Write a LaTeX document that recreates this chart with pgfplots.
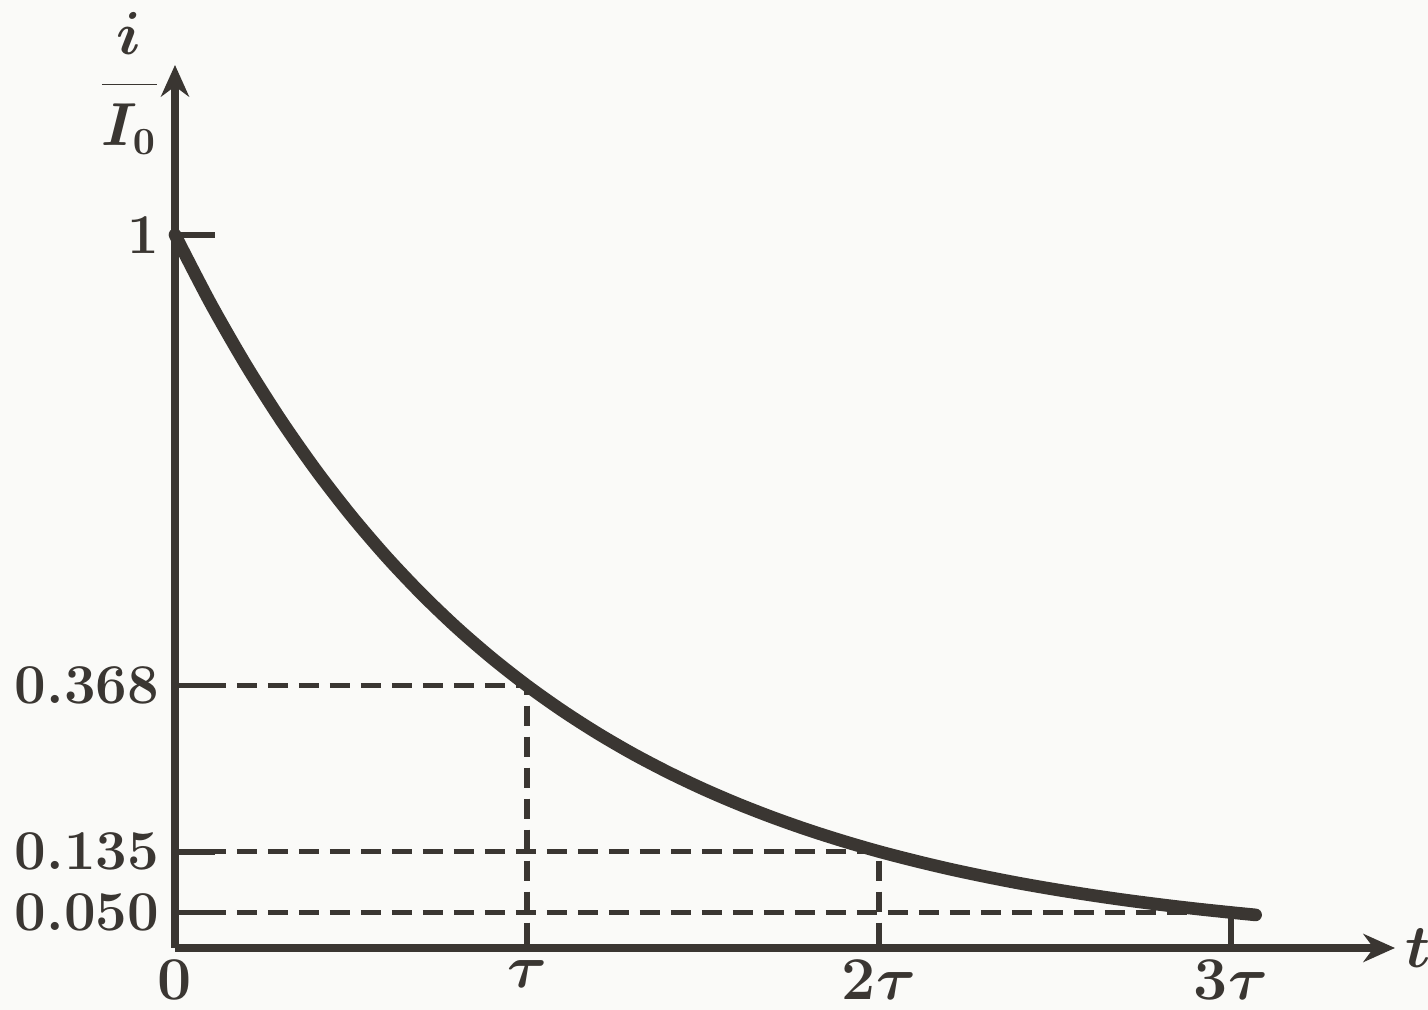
\documentclass[border=0pt]{standalone}
\usepackage{pgfplots}
\pgfplotsset{compat=1.18}
\usetikzlibrary{arrows.meta}
\definecolor{ink}{HTML}{3A3632}
\definecolor{bg}{HTML}{FAFAF8}
\begin{document}
\begin{tikzpicture}
\fill[bg] (-1.75cm,-0.62cm) rectangle ++(14.28cm,10.1cm);
\useasboundingbox (-1.75cm,-0.62cm) rectangle ++(14.28cm,10.1cm);
\begin{axis}[
  at={(0,0)}, anchor=origin,
  scale only axis, width=12.2cm, height=8.83cm,
  xmin=0, xmax=3.466, ymin=0, ymax=1.238,
  axis x line=bottom, axis y line=left,
  axis line style={ink, line width=2.2pt, -{Stealth[length=9pt,width=8pt]}},
  xtick={0,1,2,3}, xticklabels={$0$,$\tau$,$2\tau$,$3\tau$},
  ytick={0.05,0.135,0.368,1}, yticklabels={0.050,0.135,0.368,1},
  tick align=inside,
  tick style={ink, line width=1.6pt},
  xtick style={/pgfplots/major tick length=0.2cm},
  ytick style={/pgfplots/major tick length=0.4cm},
  ticklabel style={font=\fontsize{16}{18}\selectfont\bfseries\boldmath, text=ink},
  xticklabel style={yshift=0pt},
  yticklabel style={xshift=-1pt},
  clip=false,
]
\addplot[ink, line width=1.5pt, dash pattern=on 0.2cm off 0.11cm] coordinates {(0,0.368) (1,0.368) (1,0)};
\addplot[ink, line width=1.5pt, dash pattern=on 0.2cm off 0.11cm] coordinates {(0,0.135) (2,0.135) (2,0)};
\addplot[ink, line width=1.5pt, dash pattern=on 0.2cm off 0.11cm] coordinates {(0,0.05) (3,0.05) (3,0)};
\addplot[ink, line width=3.6pt, line cap=round, smooth] coordinates {
(0,1) (0.1,0.9048) (0.2,0.8187) (0.3,0.7408) (0.4,0.6703) (0.5,0.6065)
(0.6,0.5488) (0.7,0.4966) (0.8,0.4493) (0.9,0.4066) (1.0,0.3679)
(1.1,0.3329) (1.2,0.3012) (1.3,0.2725) (1.4,0.2466) (1.5,0.2231)
(1.6,0.2019) (1.7,0.1827) (1.8,0.1653) (1.9,0.1496) (2.0,0.1353)
(2.1,0.1225) (2.2,0.1108) (2.3,0.1003) (2.4,0.0907) (2.5,0.0821)
(2.6,0.0743) (2.7,0.0672) (2.8,0.0608) (2.9,0.0550) (3.0,0.0498) (3.07,0.0464)};
\node[text=ink, font=\fontsize{16}{18}\selectfont\boldmath] at (axis cs:-0.13,1.212) {$\displaystyle\frac{i}{I_0}$};
\node[text=ink, font=\fontsize{16}{18}\selectfont\boldmath, anchor=west, inner sep=0pt] at (axis cs:3.495,0.0) {$t$};
\end{axis}
\end{tikzpicture}
\end{document}
